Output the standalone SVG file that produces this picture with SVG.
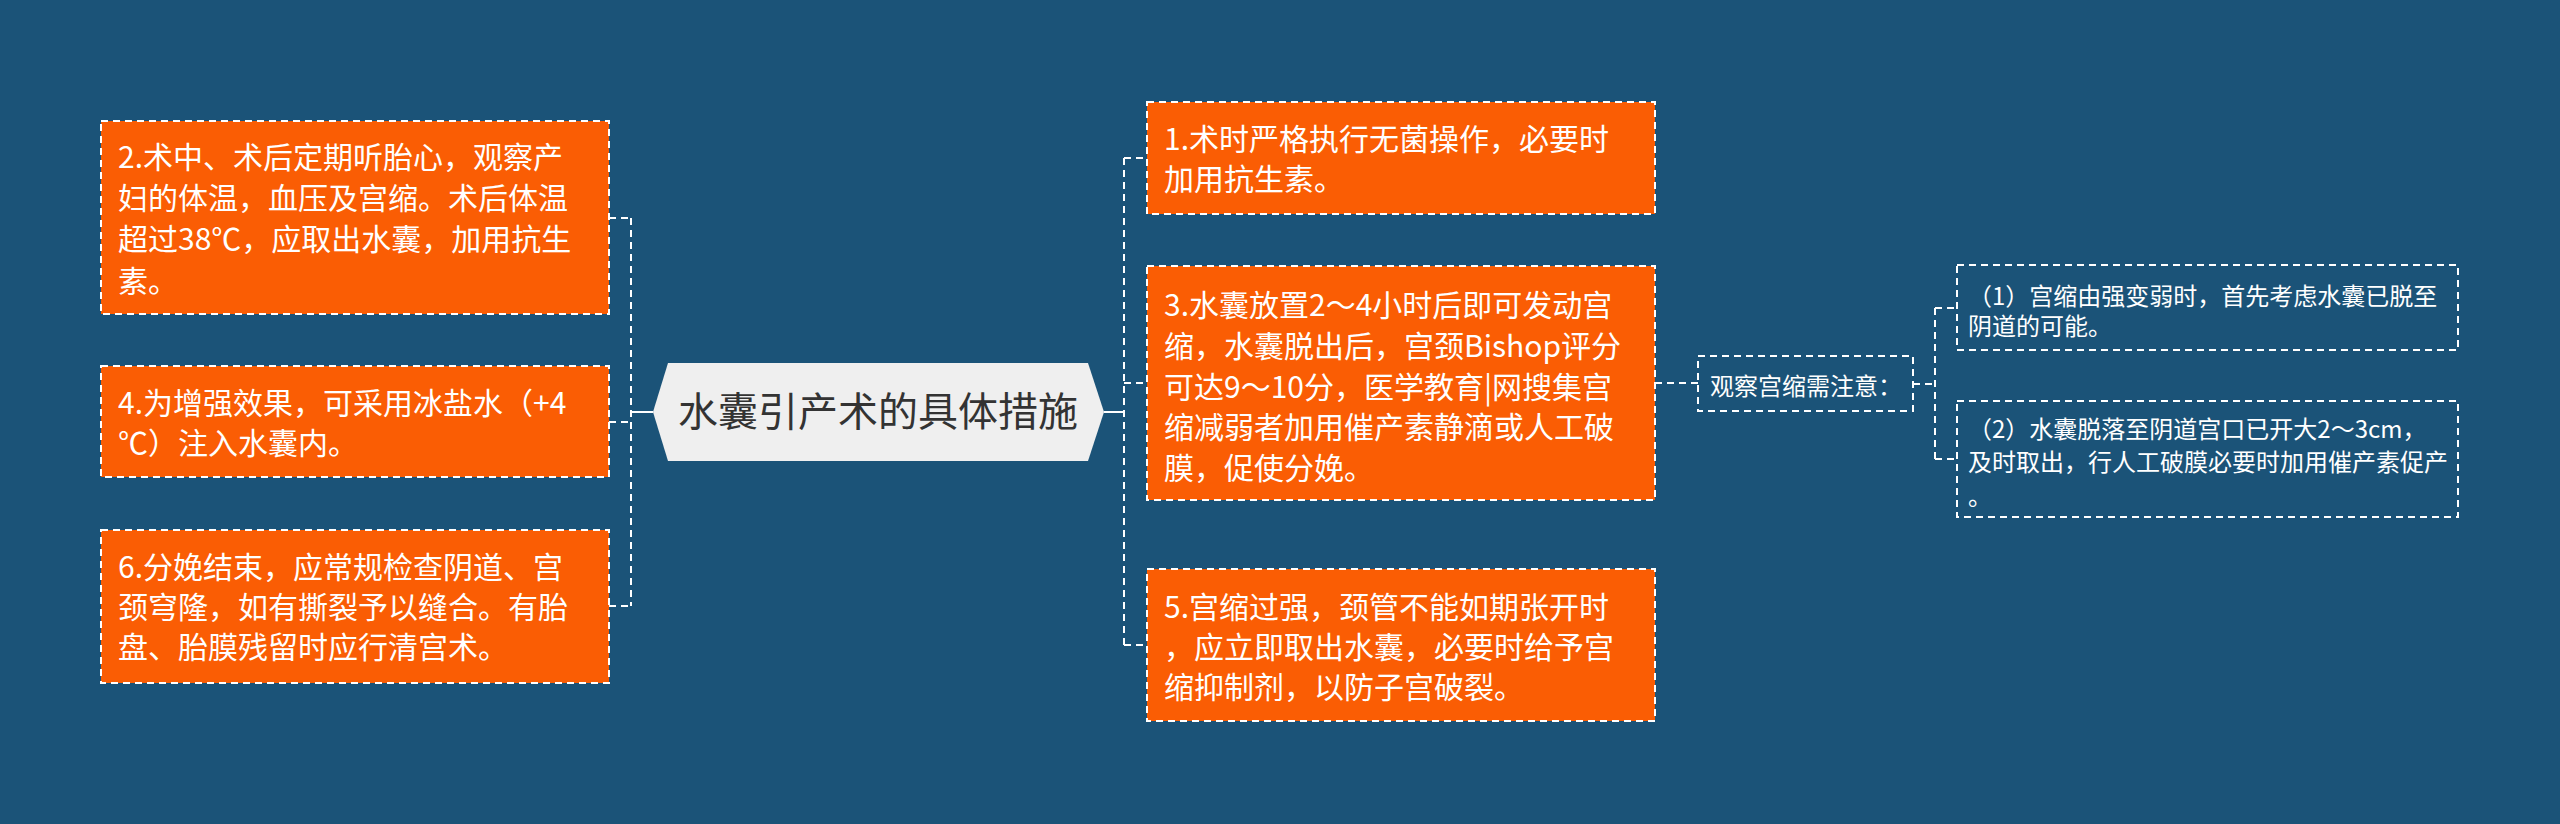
<svg xmlns="http://www.w3.org/2000/svg" width="2560" height="824" viewBox="0 0 2560 824">
<style>
.bg{fill:#1b5378}
.box{fill:#fa5d04;stroke:#ffffff;stroke-width:2;stroke-dasharray:7 5}
.sub{fill:none;stroke:#ffffff;stroke-width:2;stroke-dasharray:7 5}
.root{fill:#efefef}
.t{font-family:"Noto Sans CJK SC","Noto Sans",sans-serif;fill:#ffffff;font-size:30px}
.ts{font-family:"Noto Sans CJK SC","Noto Sans",sans-serif;fill:#ffffff;font-size:24px}
.tr{font-family:"Noto Sans CJK SC","Noto Sans",sans-serif;fill:#333333;font-size:40px}
.c{fill:none;stroke:#ffffff;stroke-width:2;stroke-dasharray:7 5}
.cs{fill:none;stroke:#ffffff;stroke-width:2}
</style>
<rect class="bg" x="0" y="0" width="2560" height="824"/>
<g id="connectors">
<path class="cs" d="M653 412 H631"/>
<path class="c" d="M631 218 V606"/>
<path class="c" d="M609 218 H631"/>
<path class="c" d="M609 422 H631"/>
<path class="c" d="M609 606 H631"/>
<path class="cs" d="M1104 412 H1124"/>
<path class="c" d="M1124 158 V645"/>
<path class="c" d="M1124 158 H1147"/>
<path class="c" d="M1124 383 H1147"/>
<path class="c" d="M1124 645 H1147"/>
<path class="c" d="M1655 383 H1698"/>
<path class="c" d="M1913 384 H1935"/>
<path class="c" d="M1935 308 V459"/>
<path class="c" d="M1935 308 H1957"/>
<path class="c" d="M1935 459 H1957"/>
</g>
<g id="root">
<polygon class="root" points="653,412 668,363 1088,363 1104,412 1088,461 668,461"/>
<text class="tr" x="878" y="426" text-anchor="middle">水囊引产术的具体措施</text>
</g>
<g id="n2">
<rect class="box" x="101" y="121" width="508" height="193"/>
<text class="t" x="118" y="168">2.术中、术后定期听胎心，观察产</text>
<text class="t" x="118" y="209">妇的体温，血压及宫缩。术后体温</text>
<text class="t" x="118" y="250">超过38℃，应取出水囊，加用抗生</text>
<text class="t" x="118" y="292">素。</text>
</g>
<g id="n4">
<rect class="box" x="101" y="366" width="508" height="111"/>
<text class="t" x="118" y="414">4.为增强效果，可采用冰盐水（+4</text>
<text class="t" x="118" y="454">℃）注入水囊内。</text>
</g>
<g id="n6">
<rect class="box" x="101" y="530" width="508" height="153"/>
<text class="t" x="118" y="578">6.分娩结束，应常规检查阴道、宫</text>
<text class="t" x="118" y="618">颈穹隆，如有撕裂予以缝合。有胎</text>
<text class="t" x="118" y="658">盘、胎膜残留时应行清宫术。</text>
</g>
<g id="n1">
<rect class="box" x="1147" y="102" width="508" height="112"/>
<text class="t" x="1164" y="150">1.术时严格执行无菌操作，必要时</text>
<text class="t" x="1164" y="190">加用抗生素。</text>
</g>
<g id="n3">
<rect class="box" x="1147" y="266" width="508" height="234"/>
<text class="t" x="1164" y="316">3.水囊放置2～4小时后即可发动宫</text>
<text class="t" x="1164" y="357">缩，水囊脱出后，宫颈Bishop评分</text>
<text class="t" x="1164" y="398">可达9～10分，医学教育|网搜集宫</text>
<text class="t" x="1164" y="438">缩减弱者加用催产素静滴或人工破</text>
<text class="t" x="1164" y="479">膜，促使分娩。</text>
</g>
<g id="n5">
<rect class="box" x="1147" y="569" width="508" height="152"/>
<text class="t" x="1164" y="618">5.宫缩过强，颈管不能如期张开时</text>
<text class="t" x="1164" y="658">，应立即取出水囊，必要时给予宫</text>
<text class="t" x="1164" y="698">缩抑制剂，以防子宫破裂。</text>
</g>
<g id="s0">
<rect class="sub" x="1698" y="356" width="215" height="55"/>
<text class="ts" x="1710" y="395">观察宫缩需注意：</text>
</g>
<g id="s1">
<rect class="sub" x="1957" y="265" width="501" height="85"/>
<text class="ts" x="1968" y="305">（1）宫缩由强变弱时，首先考虑水囊已脱至</text>
<text class="ts" x="1968" y="335">阴道的可能。</text>
</g>
<g id="s2">
<rect class="sub" x="1957" y="401" width="501" height="116"/>
<text class="ts" x="1968" y="438">（2）水囊脱落至阴道宫口已开大2～3cm，</text>
<text class="ts" x="1968" y="471">及时取出，行人工破膜必要时加用催产素促产</text>
<text class="ts" x="1968" y="505">。</text>
</g>
</svg>
